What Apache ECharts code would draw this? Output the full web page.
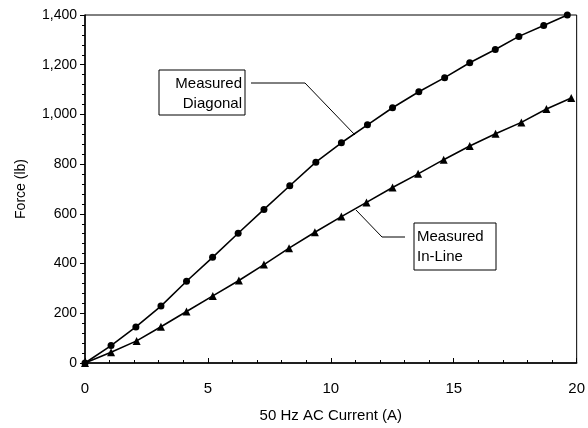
<!DOCTYPE html>
<html>
<head>
<meta charset="utf-8">
<script src="https://cdn.jsdelivr.net/npm/echarts@6/dist/echarts.min.js"></script>
<style>html,body{margin:0;padding:0;background:#fff;}#c{width:588px;height:428px;}</style>
</head>
<body>
<div id="c"></div>
<script>
const diagX = [0, 1.06, 2.07, 3.09, 4.13, 5.19, 6.23, 7.28, 8.33, 9.39, 10.43, 11.49, 12.51, 13.58, 14.63, 15.65, 16.69, 17.65, 18.66, 19.62];
const diagY = [0, 70, 145, 229, 329, 425, 522, 618, 713, 808, 886, 958, 1027, 1091, 1148, 1208, 1261, 1314, 1358, 1400];
const inlineX = [0, 1.06, 2.1, 3.09, 4.13, 5.2, 6.26, 7.28, 8.3, 9.35, 10.43, 11.45, 12.51, 13.55, 14.59, 15.65, 16.7, 17.75, 18.77, 19.78];
const inlineY = [0, 43, 89, 146, 207, 270, 332, 396, 462, 526, 589, 646, 706, 761, 818, 873, 922, 968, 1022, 1066];
const xTicks = [0, 5, 10, 15, 20];
const yTicks = [0, 200, 400, 600, 800, 1000, 1200, 1400];
const xTitle = '50 Hz AC Current (A)';
const yTitle = 'Force (lb)';
const labelDiag = ['Measured', 'Diagonal'];
const labelInline = ['Measured', 'In-Line'];

const FONT = '"Liberation Sans", Arial, sans-serif';
const chart = echarts.init(document.getElementById('c'), null, {renderer: 'canvas'});
const zip = (a, b) => a.map((v, i) => [v, b[i]]);

chart.setOption({
  animation: false,
  backgroundColor: '#fff',
  grid: {left: 85, right: 11, top: 15, bottom: 62, show: true, borderColor: '#000', borderWidth: 1, backgroundColor: 'transparent'},
  xAxis: {
    type: 'value', min: xTicks[0], max: xTicks[xTicks.length - 1], interval: 5,
    name: xTitle, nameLocation: 'middle', nameGap: 45,
    nameTextStyle: {fontFamily: FONT, fontSize: 15, color: '#000'},
    axisLine: {lineStyle: {color: '#000', width: 1.5}},
    axisTick: {inside: true, length: 5, lineStyle: {color: '#000'}},
    minorTick: {show: true, splitNumber: 5, length: 3, lineStyle: {color: '#000'}},
    axisLabel: {fontFamily: FONT, fontSize: 15, color: '#000', margin: 18},
    splitLine: {show: false}
  },
  yAxis: {
    type: 'value', min: yTicks[0], max: yTicks[yTicks.length - 1], interval: 200,
    name: yTitle, nameLocation: 'middle', nameGap: 57,
    nameTextStyle: {fontFamily: FONT, fontSize: 14, color: '#000'},
    axisLine: {lineStyle: {color: '#000', width: 1.5}},
    axisTick: {length: 5, lineStyle: {color: '#000'}},
    minorTick: {show: true, splitNumber: 5, length: 3, lineStyle: {color: '#000'}},
    axisLabel: {fontFamily: FONT, fontSize: 14, color: '#000', margin: 8,
      formatter: v => v.toLocaleString('en-US')},
    splitLine: {show: false}
  },
  series: [
    {type: 'line', name: 'Measured Diagonal', data: zip(diagX, diagY),
     symbol: 'circle', symbolSize: 7, showAllSymbol: true,
     lineStyle: {color: '#000', width: 1.6}, itemStyle: {color: '#000'}},
    {type: 'line', name: 'Measured In-Line', data: zip(inlineX, inlineY),
     symbol: 'triangle', symbolSize: 8, showAllSymbol: true,
     lineStyle: {color: '#000', width: 1.6}, itemStyle: {color: '#000'}}
  ],
  graphic: [
    {type: 'rect', shape: {x: 159, y: 70, width: 86, height: 45}, style: {fill: '#fff', stroke: '#000', lineWidth: 1}},
    {type: 'text', style: {x: 242, y: 74, text: labelDiag.join('\n'), align: 'right', verticalAlign: 'top', font: '15px ' + FONT, fill: '#000', lineHeight: 20}},
    {type: 'polyline', shape: {points: [[251, 83], [305, 83], [355, 135]]}, style: {stroke: '#000', lineWidth: 1, fill: null}},
    {type: 'rect', shape: {x: 414, y: 223, width: 82, height: 47}, style: {fill: '#fff', stroke: '#000', lineWidth: 1}},
    {type: 'text', style: {x: 417, y: 227, text: labelInline.join('\n'), align: 'left', verticalAlign: 'top', font: '15px ' + FONT, fill: '#000', lineHeight: 20}},
    {type: 'polyline', shape: {points: [[405, 237], [382, 237], [356, 210]]}, style: {stroke: '#000', lineWidth: 1, fill: null}}
  ]
});
</script>
</body>
</html>
